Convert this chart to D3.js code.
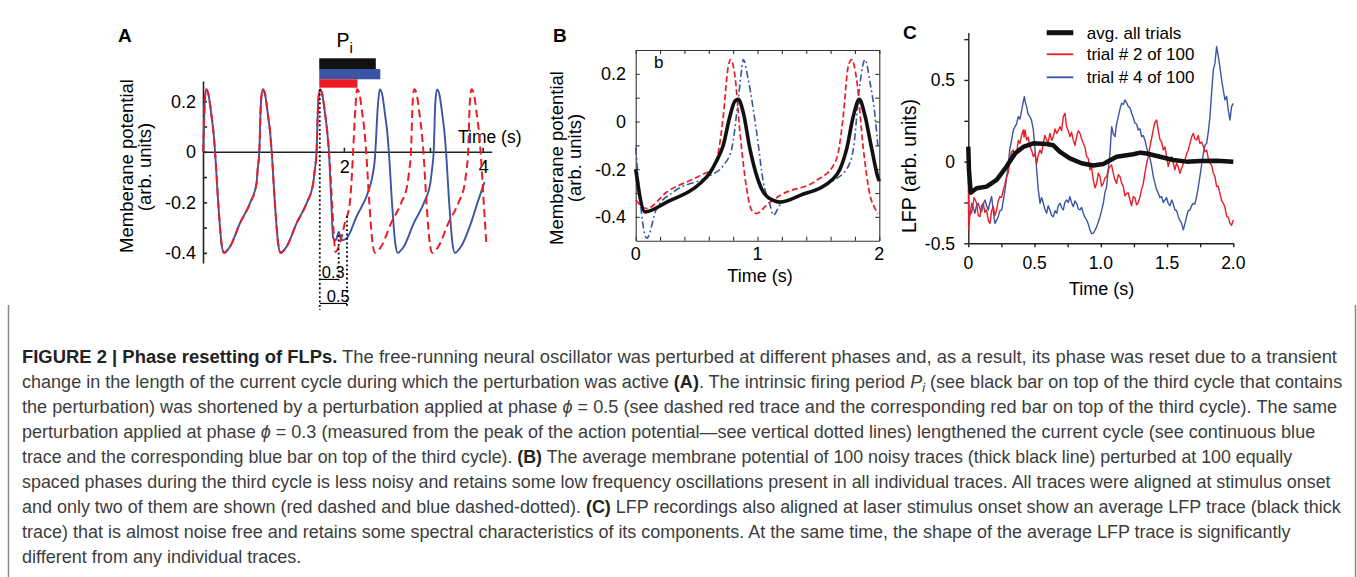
<!DOCTYPE html>
<html><head><meta charset="utf-8">
<script src="https://cdn.jsdelivr.net/npm/d3@7"></script>
<style>
body{margin:0;background:#fff}
svg{display:block}
text{font-family:"Liberation Sans",Arial,Helvetica,sans-serif;white-space:pre}
</style>
</head><body>
<svg id="c" width="1357" height="577"></svg>
<script>
// ---------------- DATA ----------------
// Panel A: membrane potential (time s, value) — shared first cycles, then two perturbed continuations
const aShared = [[-0.026,0],[-0.009,0.17],[0.013,0.247],[0.046,0.23],[0.094,0.139],[0.118,0.086],[0.142,0.007],[0.190,-0.204],[0.237,-0.363],[0.272,-0.4],[0.301,-0.395],[0.358,-0.376],[0.502,-0.283],[0.646,-0.204],[0.741,-0.125],[0.757,-0.072],[0.781,0],[0.804,0.19],[0.829,0.247],[0.862,0.23],[0.909,0.139],[0.934,0.086],[0.958,0.007],[1.006,-0.204],[1.053,-0.363],[1.088,-0.4],[1.117,-0.395],[1.174,-0.376],[1.318,-0.283],[1.462,-0.204],[1.557,-0.125],[1.581,-0.072],[1.606,0],[1.629,0.19],[1.653,0.247],[1.686,0.23],[1.734,0.139],[1.758,0.086],[1.783,0.007]];
const aBlueAfter = [[1.819,-0.2],[1.845,-0.34],[1.883,-0.35],[1.927,-0.317],[1.965,-0.35],[2.037,-0.343],[2.181,-0.257],[2.373,-0.139],[2.409,-0.1],[2.445,-0.033],[2.492,0.19],[2.517,0.247],[2.550,0.23],[2.597,0.139],[2.622,0.086],[2.646,0.007],[2.694,-0.204],[2.741,-0.363],[2.776,-0.4],[2.804,-0.395],[2.862,-0.376],[3.006,-0.283],[3.150,-0.204],[3.245,-0.125],[3.269,-0.072],[3.294,0],[3.317,0.19],[3.341,0.247],[3.374,0.23],[3.422,0.139],[3.446,0.086],[3.470,0.007],[3.518,-0.204],[3.565,-0.363],[3.600,-0.4],[3.629,-0.395],[3.686,-0.376],[3.830,-0.283],[3.927,-0.2],[4.027,-0.12]];
const aRedAfter = [[1.830,-0.204],[1.855,-0.33],[1.879,-0.396],[1.941,-0.363],[2.013,-0.283],[2.085,-0.204],[2.114,-0.1],[2.132,-0.006],[2.167,0.178],[2.190,0.247],[2.223,0.23],[2.271,0.139],[2.295,0.086],[2.319,0.007],[2.367,-0.204],[2.414,-0.363],[2.449,-0.4],[2.478,-0.395],[2.535,-0.376],[2.679,-0.283],[2.823,-0.204],[2.918,-0.125],[2.942,-0.072],[2.967,0],[2.990,0.19],[3.014,0.247],[3.047,0.23],[3.095,0.139],[3.119,0.086],[3.144,0.007],[3.191,-0.204],[3.239,-0.363],[3.273,-0.4],[3.302,-0.395],[3.360,-0.376],[3.504,-0.283],[3.647,-0.204],[3.742,-0.125],[3.767,-0.072],[3.791,0],[3.814,0.19],[3.839,0.247],[3.872,0.23],[3.919,0.139],[3.944,0.086],[3.968,0.007],[4.016,-0.204],[4.052,-0.36]];
const aYTicks = [-0.4,-0.3,-0.2,-0.1,0,0.1,0.2];
const aYLabels = [-0.4,-0.2,0,0.2];
const aXTicks = [2,3.24,4];
const aXLabels = [2,4];
// period bars: start time and end times (intrinsic Pi, phi=0.3 blue, phi=0.5 red)
const aBarStart = 1.645;
const aBarEnds = [2.46, 2.525, 2.195];
// dotted markers: time, top value, bottom value
const aDotT = [1.653, 1.925, 2.045];
const aDotTop = [0.247, -0.33, -0.254];
const aDotBottom = [-0.626, -0.508, -0.609];
const aPhaseLabels = ["0.3","0.5"];
const aPhaseLevels = [-0.505, -0.6];

// Panel B: average and two single traces (time s, value)
const bAvg = [[0,-0.2],[0.076,-0.379],[0.255,-0.338],[0.528,-0.26],[0.61,-0.215],[0.659,-0.17],[0.719,-0.1],[0.774,0.023],[0.815,0.086],[0.842,0.093],[0.883,0.038],[0.938,-0.115],[0.993,-0.227],[1.048,-0.296],[1.130,-0.331],[1.185,-0.338],[1.349,-0.31],[1.622,-0.24],[1.677,-0.2],[1.732,-0.115],[1.787,0.023],[1.836,0.093],[1.883,0.023],[1.938,-0.115],[1.992,-0.24],[2.0,-0.25]];
const bRed = [[0.0,-0.33],[0.09,-0.365],[0.255,-0.296],[0.528,-0.227],[0.637,-0.192],[0.678,-0.13],[0.719,0.023],[0.76,0.232],[0.78,0.26],[0.815,0.19],[0.856,-0.046],[0.911,-0.282],[0.952,-0.372],[0.993,-0.386],[1.076,-0.35],[1.185,-0.31],[1.486,-0.247],[1.622,-0.185],[1.663,-0.13],[1.704,0.023],[1.745,0.232],[1.773,0.26],[1.814,0.176],[1.869,-0.115],[1.924,-0.31],[1.965,-0.365],[1.99,-0.386]];
const bBlue = [[0.0,-0.11],[0.09,-0.49],[0.172,-0.365],[0.309,-0.296],[0.61,-0.227],[0.719,-0.185],[0.788,-0.115],[0.842,0.093],[0.87,0.218],[0.883,0.26],[0.924,0.176],[0.993,-0.046],[1.048,-0.254],[1.103,-0.35],[1.13,-0.393],[1.185,-0.35],[1.35,-0.31],[1.622,-0.247],[1.732,-0.2],[1.787,-0.115],[1.842,0.163],[1.883,0.26],[1.924,0.163],[1.965,0.023],[1.99,-0.115]];
const bYTicks = [-0.4,-0.3,-0.2,-0.1,0,0.1,0.2];
const bYLabels = [-0.4,-0.2,0,0.2];
const bXTicks = [0,0.2,0.4,0.6,0.8,1,1.2,1.4,1.6,1.8,2];
const bXLabels = [0,1,2];

// Panel C: LFP (time s, value)
const cAvg = [[0,0.092],[0.005,-0.05],[0.018,-0.19],[0.063,-0.163],[0.138,-0.153],[0.214,-0.112],[0.289,-0.03],[0.352,0.05],[0.415,0.09],[0.491,0.112],[0.591,0.108],[0.642,0.1],[0.692,0.06],[0.767,0.02],[0.855,-0.01],[0.943,-0.024],[1.019,-0.014],[1.119,0.03],[1.245,0.045],[1.30,0.055],[1.346,0.05],[1.447,0.03],[1.547,0.01],[1.648,0],[1.748,0.004],[1.874,0.006],[2.0,0]];
const cTrial2 = [[0,-0.092],[0.003,-0.418],[0.014,-0.30],[0.025,-0.316],[0.044,-0.22],[0.063,-0.255],[0.075,-0.33],[0.088,-0.337],[0.100,-0.27],[0.113,-0.255],[0.125,-0.31],[0.138,-0.296],[0.151,-0.36],[0.164,-0.378],[0.176,-0.30],[0.189,-0.276],[0.201,-0.33],[0.214,-0.296],[0.226,-0.24],[0.239,-0.214],[0.251,-0.22],[0.264,-0.173],[0.276,-0.14],[0.289,-0.092],[0.301,-0.07],[0.314,0.010],[0.327,0.06],[0.340,0.071],[0.352,0.03],[0.365,0.051],[0.377,0.13],[0.390,0.112],[0.402,0.16],[0.415,0.194],[0.421,0.15],[0.428,0.194],[0.440,0.133],[0.452,0.15],[0.465,0.092],[0.478,0.07],[0.491,0.031],[0.503,0.05],[0.516,-0.010],[0.528,0.04],[0.541,0.071],[0.553,0.05],[0.566,0.112],[0.578,0.16],[0.591,0.133],[0.603,0.12],[0.616,0.173],[0.629,0.13],[0.642,0.153],[0.654,0.20],[0.667,0.173],[0.679,0.19],[0.692,0.214],[0.704,0.19],[0.717,0.276],[0.730,0.296],[0.736,0.25],[0.742,0.214],[0.754,0.19],[0.767,0.153],[0.779,0.18],[0.792,0.133],[0.805,0.10],[0.818,0.153],[0.830,0.19],[0.843,0.173],[0.855,0.14],[0.868,0.112],[0.880,0.09],[0.893,0.031],[0.905,0.02],[0.918,-0.051],[0.930,-0.03],[0.943,-0.112],[0.956,-0.16],[0.969,-0.133],[0.981,-0.07],[0.994,-0.092],[1.006,-0.15],[1.019,-0.133],[1.031,-0.10],[1.044,-0.092],[1.056,-0.05],[1.069,-0.031],[1.081,-0.02],[1.094,-0.071],[1.106,-0.11],[1.119,-0.133],[1.132,-0.08],[1.145,-0.092],[1.157,-0.13],[1.170,-0.153],[1.182,-0.21],[1.195,-0.194],[1.207,-0.19],[1.220,-0.235],[1.232,-0.27],[1.245,-0.214],[1.257,-0.22],[1.270,-0.265],[1.283,-0.25],[1.296,-0.214],[1.308,-0.17],[1.321,-0.133],[1.333,-0.07],[1.346,-0.010],[1.358,0.03],[1.371,0.092],[1.383,0.14],[1.396,0.194],[1.408,0.24],[1.421,0.255],[1.434,0.19],[1.447,0.133],[1.459,0.12],[1.472,0.071],[1.484,0.09],[1.497,0.031],[1.509,-0.03],[1.522,0.010],[1.534,0.03],[1.547,-0.010],[1.559,-0.05],[1.572,-0.010],[1.584,-0.03],[1.597,-0.071],[1.610,-0.04],[1.623,-0.010],[1.635,0.01],[1.648,0.051],[1.660,0.07],[1.673,0.112],[1.685,0.15],[1.698,0.173],[1.710,0.14],[1.723,0.133],[1.735,0.16],[1.748,0.112],[1.761,0.12],[1.774,0.092],[1.786,0.06],[1.799,0.071],[1.811,0.02],[1.824,-0.010],[1.836,-0.02],[1.849,-0.071],[1.861,-0.09],[1.874,-0.153],[1.886,-0.15],[1.899,-0.194],[1.912,-0.24],[1.925,-0.255],[1.937,-0.28],[1.950,-0.337],[1.962,-0.34],[1.975,-0.378],[1.987,-0.39],[2.0,-0.357]];
const cTrial4 = [[0,-0.296],[0.012,-0.33],[0.025,-0.255],[0.037,-0.28],[0.050,-0.316],[0.062,-0.27],[0.075,-0.255],[0.088,-0.29],[0.101,-0.306],[0.113,-0.26],[0.126,-0.235],[0.138,-0.27],[0.151,-0.296],[0.163,-0.25],[0.176,-0.214],[0.188,-0.30],[0.201,-0.378],[0.213,-0.36],[0.226,-0.337],[0.239,-0.30],[0.252,-0.296],[0.264,-0.24],[0.277,-0.173],[0.289,-0.10],[0.302,-0.010],[0.314,0.08],[0.327,0.133],[0.339,0.19],[0.352,0.214],[0.364,0.23],[0.377,0.276],[0.390,0.26],[0.403,0.316],[0.413,0.36],[0.423,0.398],[0.431,0.36],[0.440,0.337],[0.452,0.29],[0.465,0.276],[0.478,0.25],[0.491,0.194],[0.503,0.08],[0.516,-0.051],[0.528,-0.17],[0.541,-0.255],[0.553,-0.22],[0.566,-0.255],[0.578,-0.29],[0.591,-0.316],[0.603,-0.27],[0.616,-0.296],[0.629,-0.33],[0.642,-0.337],[0.654,-0.30],[0.667,-0.316],[0.679,-0.27],[0.692,-0.255],[0.704,-0.28],[0.717,-0.296],[0.729,-0.25],[0.742,-0.235],[0.754,-0.25],[0.767,-0.214],[0.779,-0.25],[0.792,-0.276],[0.805,-0.24],[0.818,-0.255],[0.830,-0.29],[0.843,-0.296],[0.855,-0.28],[0.868,-0.316],[0.880,-0.34],[0.893,-0.357],[0.905,-0.38],[0.918,-0.418],[0.930,-0.44],[0.943,-0.439],[0.956,-0.42],[0.969,-0.398],[0.981,-0.37],[0.994,-0.337],[1.006,-0.30],[1.019,-0.255],[1.031,-0.19],[1.044,-0.153],[1.056,-0.05],[1.069,0.051],[1.082,0.214],[1.094,0.17],[1.107,0.153],[1.119,0.23],[1.132,0.276],[1.144,0.32],[1.157,0.357],[1.170,0.35],[1.182,0.378],[1.195,0.36],[1.208,0.337],[1.220,0.33],[1.233,0.296],[1.245,0.27],[1.258,0.235],[1.270,0.23],[1.283,0.194],[1.296,0.20],[1.308,0.153],[1.320,0.16],[1.333,0.133],[1.345,0.09],[1.358,0.051],[1.371,0.02],[1.384,-0.031],[1.396,-0.09],[1.409,-0.133],[1.421,-0.17],[1.434,-0.194],[1.446,-0.22],[1.459,-0.214],[1.471,-0.25],[1.484,-0.235],[1.496,-0.22],[1.509,-0.255],[1.522,-0.27],[1.535,-0.235],[1.547,-0.26],[1.560,-0.296],[1.572,-0.30],[1.585,-0.337],[1.597,-0.36],[1.610,-0.378],[1.623,-0.418],[1.635,-0.38],[1.648,-0.337],[1.660,-0.30],[1.673,-0.296],[1.685,-0.27],[1.698,-0.255],[1.710,-0.26],[1.723,-0.214],[1.735,-0.16],[1.748,-0.092],[1.761,-0.02],[1.774,0.051],[1.786,0.10],[1.799,0.112],[1.811,0.18],[1.824,0.276],[1.836,0.42],[1.849,0.561],[1.861,0.60],[1.874,0.704],[1.887,0.643],[1.899,0.58],[1.912,0.500],[1.924,0.44],[1.937,0.378],[1.950,0.40],[1.962,0.316],[1.975,0.255],[1.987,0.337],[2.0,0.357]];
const cLegend = ["avg. all trials","trial # 2 of 100","trial # 4 of 100"];
const cYTicks = [-0.5,-0.25,0,0.25,0.5,0.75];
const cYLabels = [-0.5,0,0.5];
const cXTicks = [0,0.25,0.5,0.75,1,1.25,1.5,1.75,2];
const cXLabels = ["0","0.5","1.0","1.5","2.0"];

// Caption lines: [text, style]
const captionLines = [
  [["FIGURE 2 | Phase resetting of FLPs.","b"],[" The free-running neural oscillator was perturbed at different phases and, as a result, its phase was reset due to a transient","n"]],
  [["change in the length of the current cycle during which the perturbation was active ","n"],["(A)","b"],[". The intrinsic firing period ","n"],["P","i"],["i","sub"],[" (see black bar on top of the third cycle that contains","n"]],
  [["the perturbation) was shortened by a perturbation applied at phase ","n"],["ϕ","i"],[" = 0.5 (see dashed red trace and the corresponding red bar on top of the third cycle). The same","n"]],
  [["perturbation applied at phase ","n"],["ϕ","i"],[" = 0.3 (measured from the peak of the action potential—see vertical dotted lines) lengthened the current cycle (see continuous blue","n"]],
  [["trace and the corresponding blue bar on top of the third cycle). ","n"],["(B)","b"],[" The average membrane potential of 100 noisy traces (thick black line) perturbed at 100 equally","n"]],
  [["spaced phases during the third cycle is less noisy and retains some low frequency oscillations present in all individual traces. All traces were aligned at stimulus onset","n"]],
  [["and only two of them are shown (red dashed and blue dashed-dotted). ","n"],["(C)","b"],[" LFP recordings also aligned at laser stimulus onset show an average LFP trace (black thick","n"]],
  [["trace) that is almost noise free and retains some spectral characteristics of its components. At the same time, the shape of the average LFP trace is significantly","n"]],
  [["different from any individual traces.","n"]]
];
const captionEnds = [1338,1343,1338,1316,1293,1331,1342,1291,null];

// ---------------- DRAW ----------------
const svg = d3.select("#c");
const RED = "#ec1c24", BLUE = "#3a55a4", BLK = "#111";
const fmt = d => String(d);

// ===== Panel A =====
const xA = d3.scaleLinear().domain([-0.03, 4.13]).range([203, 491.7]);
const yA = d3.scaleLinear().domain([-0.44, 0.28]).range([263, 81]);
const gA = svg.append("g");
gA.append("text").attr("x",118).attr("y",42).attr("font-size",19).attr("font-weight","bold").text("A");

const yAxA = gA.append("g").attr("transform",`translate(${xA(-0.03)},0)`)
  .call(d3.axisRight(yA).tickValues(aYTicks).tickSize(4).tickSizeOuter(0).tickFormat(""));
const xAxA = gA.append("g").attr("transform",`translate(0,${yA(0)})`)
  .call(d3.axisTop(xA).tickValues(aXTicks).tickSize(4).tickSizeOuter(0).tickFormat(""));
[yAxA,xAxA].forEach(g=>{g.selectAll("path,line").attr("stroke","#222").attr("stroke-width",1.6);});
gA.selectAll(".ayl").data(aYLabels).join("text").attr("x",196).attr("y",d=>yA(d)).attr("dy","0.36em")
  .attr("text-anchor","end").attr("font-size",18).text(fmt);
gA.selectAll(".axl").data(aXLabels).join("text").attr("x",d=>xA(d)+1).attr("y",yA(0)+21)
  .attr("text-anchor","middle").attr("font-size",18).text(fmt);
gA.append("text").attr("x",458).attr("y",143).attr("font-size",17.5).text("Time (s)");
gA.append("text").attr("transform","translate(133,166) rotate(-90)").attr("text-anchor","middle").attr("font-size",18.5).text("Memberane potential");
gA.append("text").attr("transform","translate(151,167) rotate(-90)").attr("text-anchor","middle").attr("font-size",18.5).text("(arb. units)");

// bars
const barColors = [BLK, BLUE, RED];
const barTops = [58.3, 69, 79.3], barHs = [10.7, 10.3, 8.4];
gA.selectAll(".bar").data(aBarEnds).join("rect")
  .attr("x",xA(aBarStart)).attr("width",d=>xA(d)-xA(aBarStart))
  .attr("y",(d,i)=>barTops[i]).attr("height",(d,i)=>barHs[i]).attr("fill",(d,i)=>barColors[i]);
const pt = gA.append("text").attr("x",336.5).attr("y",47).attr("font-size",19.5);
pt.append("tspan").text("P");
pt.append("tspan").attr("font-size",15).attr("dy",6).text("i");

const lineA = d3.line().x(d=>xA(d[0])).y(d=>yA(d[1])).curve(d3.curveMonotoneX);
gA.append("path").attr("d",lineA(aShared.concat(aBlueAfter))).attr("fill","none").attr("stroke",BLUE).attr("stroke-width",1.9);
gA.append("path").attr("d",lineA(aShared.concat(aRedAfter))).attr("fill","none").attr("stroke",RED).attr("stroke-width",2).attr("stroke-dasharray","8,4.5");

// dotted markers
gA.selectAll(".dot").data(aDotT).join("line")
  .attr("x1",d=>xA(d)).attr("x2",d=>xA(d))
  .attr("y1",(d,i)=>yA(aDotTop[i])).attr("y2",(d,i)=>yA(aDotBottom[i]))
  .attr("stroke","#000").attr("stroke-width",1.8).attr("stroke-dasharray","1.8,2.6");
gA.selectAll(".ph").data(aPhaseLevels).join("line")
  .attr("x1",xA(aDotT[0])).attr("x2",(d,i)=>xA(aDotT[i+1]))
  .attr("y1",d=>yA(d)).attr("y2",d=>yA(d)).attr("stroke","#000").attr("stroke-width",1.2);
gA.selectAll(".phl").data(aPhaseLabels).join("text")
  .attr("x",(d,i)=>xA(aDotT[0])+2+i*5).attr("y",(d,i)=>yA(aPhaseLevels[i])-1)
  .attr("font-size",16.5).text(d=>d);

// ===== Panel B =====
const xB = d3.scaleLinear().domain([0,2]).range([635.7,879.3]);
const yB = d3.scaleLinear().domain([-0.5,0.3]).range([240.7,50]);
const gB = svg.append("g");
gB.append("text").attr("x",553).attr("y",42).attr("font-size",19).attr("font-weight","bold").text("B");
const axB = [
  gB.append("g").attr("transform",`translate(${xB(0)},0)`).call(d3.axisRight(yB).tickValues(bYTicks).tickSize(4).tickSizeOuter(0).tickFormat("")),
  gB.append("g").attr("transform",`translate(${xB(2)},0)`).call(d3.axisLeft(yB).tickValues(bYTicks).tickSize(4).tickSizeOuter(0).tickFormat("")),
  gB.append("g").attr("transform",`translate(0,${yB(-0.5)})`).call(d3.axisTop(xB).tickValues(bXTicks).tickSize(4).tickSizeOuter(0).tickFormat("")),
  gB.append("g").attr("transform",`translate(0,${yB(0.3)})`).call(d3.axisBottom(xB).tickValues(bXTicks).tickSize(4).tickSizeOuter(0).tickFormat(""))
];
axB.forEach(g=>g.selectAll("path,line").attr("stroke","#333").attr("stroke-width",1.1));
gB.selectAll(".byl").data(bYLabels).join("text").attr("x",626).attr("y",d=>yB(d)).attr("dy","0.36em")
  .attr("text-anchor","end").attr("font-size",18).text(fmt);
gB.selectAll(".bxl").data(bXLabels).join("text").attr("x",d=>xB(d)).attr("y",260)
  .attr("text-anchor","middle").attr("font-size",18).text(fmt);
gB.append("text").attr("x",760).attr("y",282).attr("text-anchor","middle").attr("font-size",18).text("Time (s)");
gB.append("text").attr("transform","translate(563,158) rotate(-90)").attr("text-anchor","middle").attr("font-size",18.5).text("Memberane potential");
gB.append("text").attr("transform","translate(581,158) rotate(-90)").attr("text-anchor","middle").attr("font-size",18.5).text("(arb. units)");
gB.append("text").attr("x",654).attr("y",68).attr("font-size",17).text("b");
const lineB = d3.line().x(d=>xB(d[0])).y(d=>yB(d[1])).curve(d3.curveMonotoneX);
gB.append("path").attr("d",lineB(bBlue)).attr("fill","none").attr("stroke",BLUE).attr("stroke-width",1.6).attr("stroke-dasharray","7,3,1.8,3");
gB.append("path").attr("d",lineB(bRed)).attr("fill","none").attr("stroke",RED).attr("stroke-width",1.7).attr("stroke-dasharray","6,3");
gB.append("path").attr("d",lineB(bAvg)).attr("fill","none").attr("stroke",BLK).attr("stroke-width",3.6);

// ===== Panel C =====
const xC = d3.scaleLinear().domain([0,2]).range([968.3,1233.3]);
const yC = d3.scaleLinear().domain([-0.5,0.79]).range([243.3,32.6]);
const gC = svg.append("g");
gC.append("text").attr("x",903).attr("y",39).attr("font-size",19).attr("font-weight","bold").text("C");
const axC = [
  gC.append("g").attr("transform",`translate(${xC(0)},0)`).call(d3.axisLeft(yC).tickValues(cYTicks).tickSize(4).tickSizeOuter(0).tickFormat("")),
  gC.append("g").attr("transform",`translate(0,${yC(-0.5)})`).call(d3.axisBottom(xC).tickValues(cXTicks).tickSize(4).tickSizeOuter(0).tickFormat(""))
];
axC.forEach(g=>g.selectAll("path,line").attr("stroke","#222").attr("stroke-width",1.4));
gC.selectAll(".cyl").data(cYLabels).join("text").attr("x",955).attr("y",d=>yC(d)).attr("dy","0.36em")
  .attr("text-anchor","end").attr("font-size",17.5).text(fmt);
gC.selectAll(".cxl").data(cXLabels).join("text").attr("x",(d,i)=>xC(i*0.5)).attr("y",269)
  .attr("text-anchor","middle").attr("font-size",17.5).text(d=>d);
gC.append("text").attr("x",1101.7).attr("y",295).attr("text-anchor","middle").attr("font-size",18).text("Time (s)");
gC.append("text").attr("transform","translate(916,166) rotate(-90)").attr("text-anchor","middle").attr("font-size",19.5).text("LFP (arb. units)");
const lineC = d3.line().x(d=>xC(d[0])).y(d=>yC(d[1]));
gC.append("path").attr("d",lineC(cTrial4)).attr("fill","none").attr("stroke",BLUE).attr("stroke-width",1.4).attr("stroke-linejoin","round");
gC.append("path").attr("d",lineC(cTrial2)).attr("fill","none").attr("stroke",RED).attr("stroke-width",1.4).attr("stroke-linejoin","round");
gC.append("path").attr("d",lineC(cAvg)).attr("fill","none").attr("stroke",BLK).attr("stroke-width",4.5).attr("stroke-linejoin","round");
// legend
const legColors = [BLK, RED, BLUE], legW = [5,1.8,1.8], legY = [32.7,54.3,77.3];
gC.selectAll(".legl").data(cLegend).join("line").attr("x1",1046.7).attr("x2",1073.3)
  .attr("y1",(d,i)=>legY[i]).attr("y2",(d,i)=>legY[i]).attr("stroke",(d,i)=>legColors[i]).attr("stroke-width",(d,i)=>legW[i]);
gC.selectAll(".legt").data(cLegend).join("text").attr("x",1086.7).attr("y",(d,i)=>legY[i]+6)
  .attr("font-size",17).text(d=>d);

// ===== Caption =====
const gT = svg.append("g");
gT.append("line").attr("x1",8.5).attr("x2",8.5).attr("y1",305).attr("y2",577).attr("stroke","#8a8a8a").attr("stroke-width",1.5);
gT.append("line").attr("x1",1355.5).attr("x2",1355.5).attr("y1",305).attr("y2",577).attr("stroke","#8a8a8a").attr("stroke-width",1.5);
const capTexts = captionLines.map((segs,li)=>{
  const t = gT.append("text").attr("x",0).attr("y",0).attr("font-size",18.5).attr("fill","#3c3c3c");
  let shifted = false;
  segs.forEach(([s,st])=>{
    const sp = t.append("tspan").text(s);
    if (st==="b") sp.attr("font-weight","bold").attr("fill","#222");
    if (st==="i") sp.attr("font-style","italic");
    if (st==="sub") { sp.attr("font-style","italic").attr("font-size",13).attr("dy",4); shifted = true; }
    else if (shifted) { sp.attr("dy",-4); shifted = false; }
  });
  return t;
});
// squeeze each full line horizontally to its measured width; the last line uses the mean squeeze
const ratios = [];
capTexts.forEach((t,li)=>{
  if (captionEnds[li]) ratios.push((captionEnds[li]-22)/t.node().getComputedTextLength());
});
const meanR = d3.mean(ratios);
capTexts.forEach((t,li)=>{
  const r = captionEnds[li] ? (captionEnds[li]-22)/t.node().getComputedTextLength() : meanR;
  t.attr("transform",`translate(22,${363+li*25}) scale(${r},1)`);
});
</script>
</body></html>
